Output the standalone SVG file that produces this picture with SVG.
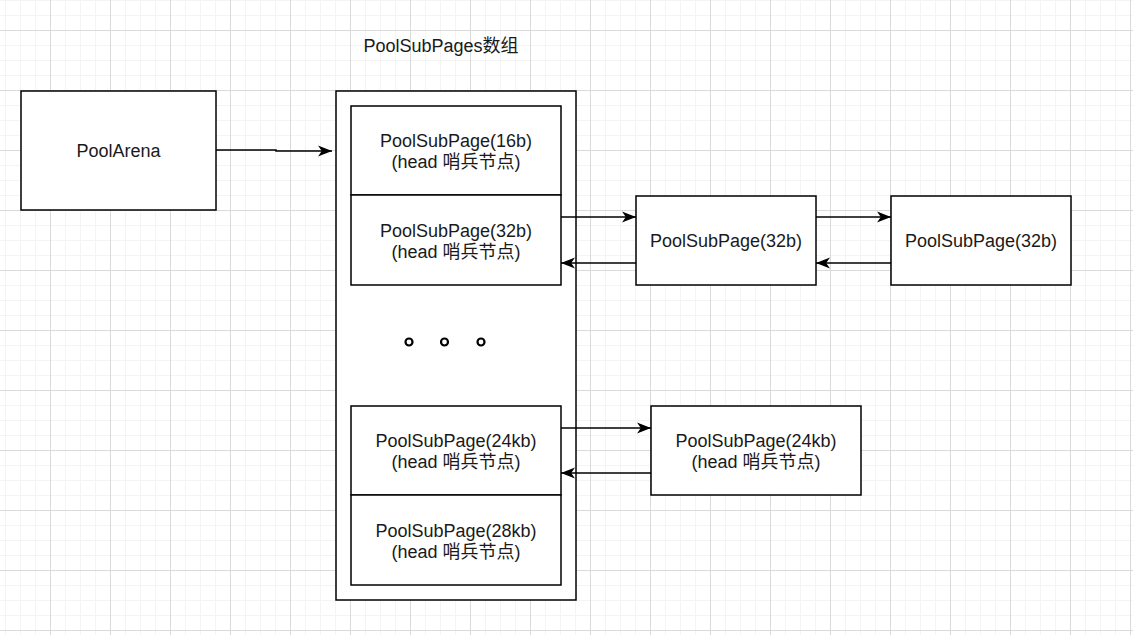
<svg xmlns="http://www.w3.org/2000/svg" width="1133" height="635" viewBox="0 0 1133 635">
<style>
.box{fill:#fff;stroke:#000;stroke-width:1.5}
.t{font-family:"Liberation Sans",Arial,"Noto Sans CJK SC",sans-serif;font-size:18px;fill:#1a1a1a;text-anchor:middle}
.c{fill:none;stroke:#000;stroke-width:1.5}
</style>
<defs>
<pattern id="minor" patternUnits="userSpaceOnUse" x="5" y="0" width="15" height="15">
<path d="M0.5,0V15M0,0.5H15" stroke="#f4f4f4" stroke-width="1" fill="none"/>
</pattern>
<pattern id="major" patternUnits="userSpaceOnUse" x="50" y="30" width="60" height="60">
<path d="M0.5,0V60M0,0.5H60" stroke="#dadada" stroke-width="1" fill="none"/>
</pattern>
<marker id="arr" markerUnits="userSpaceOnUse" markerWidth="15" markerHeight="13" refX="14" refY="6.5" orient="auto">
<path d="M14,6.5 L0,1 L3.8,6.5 L0,12 Z" fill="#000"/>
</marker>
</defs>
<rect width="1133" height="635" fill="#fff"/>
<rect width="1133" height="635" fill="url(#minor)"/>
<rect width="1133" height="635" fill="url(#major)"/>

<g id="poolarena">
<rect class="box" x="21" y="91" width="195" height="119"/>
<text class="t" x="118.5" y="157">PoolArena</text>
</g>

<g id="title">
<text class="t" x="441" y="52">PoolSubPages数组</text>
</g>

<g id="array">
<rect class="box" x="336" y="91" width="240" height="509"/>
</g>

<g id="sp16">
<rect class="box" x="351" y="106" width="210" height="89"/>
<text class="t" x="456" y="147">PoolSubPage(16b)</text>
<text class="t" x="456" y="168">(head 哨兵节点)</text>
</g>
<g id="sp32">
<rect class="box" x="351" y="195" width="210" height="90"/>
<text class="t" x="456" y="237">PoolSubPage(32b)</text>
<text class="t" x="456" y="258">(head 哨兵节点)</text>
</g>
<g id="dots">
<circle cx="409" cy="342" r="3.5" fill="none" stroke="#000" stroke-width="2.2"/>
<circle cx="444.5" cy="342" r="3.5" fill="none" stroke="#000" stroke-width="2.2"/>
<circle cx="481" cy="342" r="3.5" fill="none" stroke="#000" stroke-width="2.2"/>
</g>
<g id="sp24k">
<rect class="box" x="351" y="406" width="210" height="89"/>
<text class="t" x="456" y="447">PoolSubPage(24kb)</text>
<text class="t" x="456" y="468">(head 哨兵节点)</text>
</g>
<g id="sp28k">
<rect class="box" x="351" y="495" width="210" height="90"/>
<text class="t" x="456" y="537">PoolSubPage(28kb)</text>
<text class="t" x="456" y="558">(head 哨兵节点)</text>
</g>

<g id="sp32a">
<rect class="box" x="636" y="196" width="180" height="89"/>
<text class="t" x="726" y="247">PoolSubPage(32b)</text>
</g>
<g id="sp32b">
<rect class="box" x="891" y="196" width="180" height="89"/>
<text class="t" x="981" y="247">PoolSubPage(32b)</text>
</g>
<g id="sp24kb">
<rect class="box" x="651" y="406" width="210" height="89"/>
<text class="t" x="756" y="447">PoolSubPage(24kb)</text>
<text class="t" x="756" y="468">(head 哨兵节点)</text>
</g>

<g id="connectors">
<path class="c" d="M216,150 H276 V151 H332" marker-end="url(#arr)"/>
<path class="c" d="M561,217 H636" marker-end="url(#arr)"/>
<path class="c" d="M636,263 H561" marker-end="url(#arr)"/>
<path class="c" d="M816,217 H891" marker-end="url(#arr)"/>
<path class="c" d="M891,263 H816" marker-end="url(#arr)"/>
<path class="c" d="M561,428 H651" marker-end="url(#arr)"/>
<path class="c" d="M651,473 H561" marker-end="url(#arr)"/>
</g>
</svg>
